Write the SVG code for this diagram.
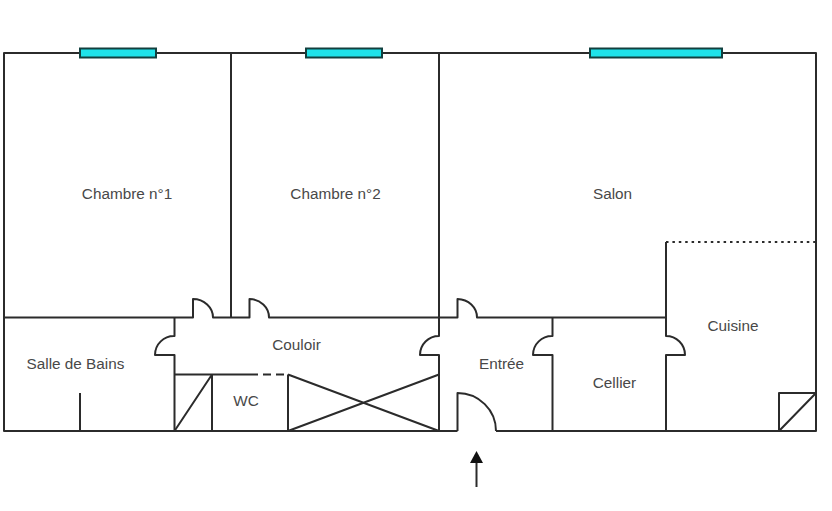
<svg xmlns="http://www.w3.org/2000/svg" width="832" height="511" viewBox="0 0 832 511">
<style>
.w{fill:none;stroke:#2b2b2b;stroke-width:2;stroke-linejoin:round}
.win{fill:#1fe3ea;stroke:#12403f;stroke-width:2}
text{font-family:"Liberation Sans",Arial,sans-serif;font-size:15.300px;fill:#484848;text-anchor:middle}
</style>
<rect width="832" height="511" fill="#fff"/>
<g id="walls">
<path class="w" d="M457.500 431H4V53H816V431H496"/>
<path class="w" d="M231 53V317.500"/>
<path class="w" d="M439 53V336A19 19 0 0 0 420 355H439V431"/>
<path class="w" d="M4 317.500H193V299A20 18.500 0 0 1 213 317.500H249.500V299A20 18.500 0 0 1 269 317.500H457.500V299A20 18.500 0 0 1 477 317.500H666"/>
<path class="w" d="M174.500 317.500V336A19 19 0 0 0 155 355H174.500V431"/>
<path class="w" d="M552.500 317.500V336A19 19 0 0 0 533 355H552.500V431"/>
<path class="w" d="M666 242V336A19 19 0 0 1 685 355H666V431"/>
<path class="w" d="M457.500 431V393A38.500 38 0 0 1 496 431"/>
<path class="w" d="M80 393V431"/>
<path class="w" d="M174.500 374.500H250"/>
<path class="w" d="M250 374.500H288" stroke-dasharray="8 5"/>
<path class="w" d="M212 374.500V431M174.500 431L212 374.500"/>
<path class="w" d="M288 374.500V431M288 374.500L439 431M288 431L439 374.500"/>
<path class="w" d="M666 242H816" stroke-dasharray="2.500 3.900"/>
<path class="w" d="M779 431V393H816L779 431"/>
</g>
<g id="windows">
<rect class="win" x="80" y="48.500" width="76" height="9"/>
<rect class="win" x="306" y="48.500" width="76" height="9"/>
<rect class="win" x="590" y="48.500" width="132" height="9"/>
</g>
<g id="arrow">
<path class="w" d="M476.500 487V460"/>
<path d="M476.500 451L483 463H470Z" fill="#111"/>
</g>
<g id="labels">
<text x="127" y="199">Chambre n°1</text>
<text x="335.500" y="199">Chambre n°2</text>
<text x="612.500" y="199">Salon</text>
<text x="733" y="331">Cuisine</text>
<text x="296.500" y="350">Couloir</text>
<text x="75.500" y="369">Salle de Bains</text>
<text x="501.500" y="369">Entrée</text>
<text x="614.500" y="388">Cellier</text>
<text x="246" y="406">WC</text>
</g>
</svg>
